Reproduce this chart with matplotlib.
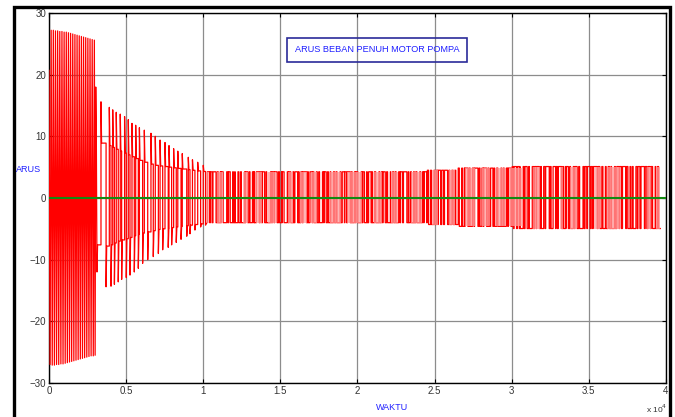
import numpy as np
import matplotlib
matplotlib.use("Agg")
import matplotlib.pyplot as plt
from matplotlib.patches import Rectangle
from matplotlib.ticker import FuncFormatter

# --- data (time in raw units, x axis shown as x 10^4) ---

# start-up: dense swing between about +-27
r1_t = [0, 70, 140, 210, 280, 350, 420, 490, 560, 630, 700, 770, 840, 910, 980,
        1050, 1120, 1190, 1260, 1330, 1400, 1470, 1540, 1610, 1680, 1750, 1820,
        1890, 1960, 2030, 2100, 2170, 2240, 2310, 2380, 2450, 2520, 2590, 2660,
        2730, 2800, 2870, 2940, 2990, 3030, 3070, 3110, 3150]
r1_y = [20.7, -27.0, 27.2, -27.1, 27.2, -27.1, 27.1, -27.0, 27.1, -27.0, 27.0,
        -26.9, 27.0, -26.9, 26.9, -26.8, 26.9, -26.7, 26.8, -26.6, 26.7, -26.5,
        26.6, -26.4, 26.5, -26.3, 26.4, -26.2, 26.3, -26.1, 26.2, -26.0, 26.1,
        -25.9, 26.0, -25.8, 25.9, -25.7, 25.8, -25.6, 25.7, -25.6, 25.6,
        -25.5, 18.0, 9.0, -12.0, -7.6]

# decaying part: switching instants, spike peaks and plateau levels
r2_up = [3370, 3910, 4130, 4360, 4620, 4900, 5140, 5380, 5620, 5860, 6180, 6610,
         6890, 7200, 7520, 7780, 8080, 8350, 8640, 9030, 9300, 9640, 10000]
r2_dn = [3700, 4020, 4240, 4490, 4710, 5010, 5250, 5530, 5790, 6070, 6400, 6760,
         7090, 7370, 7730, 7950, 8250, 8560, 8930, 9140, 9460, 9830, 10150]
r2_pk_hi = [15.6, 14.7, 14.3, 13.9, 13.6, 13.2, 12.7, 12.1, 11.8, 11.4, 11.0, 10.5,
            10.0, 9.4, 9.0, 8.5, 8.0, 7.6, 7.2, 6.6, 6.2, 5.8, 5.3]
r2_pk_lo = [-14.4, -14.3, -14.0, -13.6, -13.2, -12.9, -12.5, -12.0, -11.4, -10.6,
            -10.0, -9.5, -9.0, -8.4, -8.0, -7.6, -7.2, -6.7, -6.2, -5.8, -5.2,
            -4.7, -4.4]
r2_pl_hi = [8.9, 8.5, 8.2, 7.9, 7.6, 7.3, 7.0, 6.7, 6.4, 6.1, 5.8, 5.5, 5.3, 5.2,
            5.1, 5.0, 4.9, 4.8, 4.7, 4.6, 4.5, 4.4, 4.3]
r2_pl_lo = [-7.8, -7.6, -7.3, -7.0, -6.8, -6.6, -6.4, -6.1, -5.9, -5.7, -5.5, -5.3,
            -5.1, -5.0, -4.9, -4.8, -4.7, -4.6, -4.5, -4.4, -4.3, -4.2, -4.1]

# steady switching: half-period durations per block and the two levels
blkA_dur = [80, 150, 40, 110, 60, 200, 90, 50, 130, 40,
            30, 120, 230, 70, 50, 110, 160, 40, 90, 30,
            180, 60, 110, 50, 210, 40, 30, 140, 90, 50,
            160, 80, 30, 20, 120, 190, 60, 100, 50, 140,
            90, 40, 250, 70, 50, 110, 30, 170, 90, 60,
            130, 30, 20, 120, 210, 70, 50, 100, 150, 40,
            80, 180, 60, 30, 120, 90, 50, 230, 70, 40,
            110, 140, 30, 80, 160, 60, 100, 50, 190, 80,
            30, 130, 90, 50, 120, 40, 170, 70, 100, 60,
            200, 50, 90, 140, 30, 110, 60, 180, 80, 40,
            150, 70, 30, 120, 220, 60, 50, 100, 140, 40,
            90, 160, 60, 30, 130, 80, 210, 50, 110, 70,
            40, 140, 90, 60, 180, 30, 120, 70, 100, 50,
            170, 80, 40, 130, 60, 220, 90, 30, 110, 60,
            150, 40, 100, 70, 190, 50, 120, 80, 30, 160, 50]
blkA_lvl = (4.25, -4.0)
blkB_dur = [80, 130, 50, 170, 40, 110, 90, 30, 160, 70,
            120, 60, 200, 90, 50, 140, 80, 110, 60, 160]
blkB_lvl = (4.5, -4.3)
blkC_dur = [70, 160, 40, 120, 30, 20, 190, 80, 60, 150,
            100, 40, 220, 80, 50, 130, 90, 30, 180, 90,
            60, 110, 150, 70, 40, 130, 80, 200, 50, 100,
            60, 140, 90, 40, 170, 80]
blkC_lvl = (4.85, -4.6)
blkD_dur = [80, 40, 160, 60, 120, 30, 20, 200, 70, 50,
            140, 100, 40, 190, 90, 60, 110, 30, 170, 80,
            50, 150, 90, 40, 230, 70, 50, 130, 160, 30,
            90, 60, 210, 80, 40, 120, 30, 20, 150, 90,
            50, 180, 70, 40, 140, 100, 60, 220, 80, 50,
            120, 40, 170, 70, 90, 40, 260, 60, 110, 130,
            70, 160, 50, 130, 80, 100, 40, 190, 60, 90,
            150, 30, 120, 70, 210, 50, 90, 140, 40, 100,
            60, 180, 90, 40, 130, 70, 220, 50, 110, 80,
            140, 60, 90, 170, 40, 110, 70, 110]
blkD_lvl = (5.1, -4.95)

# spans of very fast chatter (seen as pink bands)
chat_t0 = [10200, 10900, 12600, 13400, 14200, 15500, 16300, 17000, 18200, 19300,
           21100, 22200, 23500, 24800, 25900, 27000, 28100, 28900, 29800, 31400,
           33100, 33800, 35300, 36200, 38800, 39350]
chat_t1 = [10400, 11300, 12900, 13800, 14700, 15800, 16700, 17400, 18900, 20300,
           21600, 22600, 24200, 25200, 26300, 27600, 28500, 29600, 30700, 31800,
           33300, 34200, 35700, 37000, 39000, 39600]

x_ticks = [0, 5000, 10000, 15000, 20000, 25000, 30000, 35000, 40000]
y_ticks = [-30, -20, -10, 0, 10, 20, 30]

# --- build the polyline ---
xs = list(r1_t)
ys = list(r1_y)
for i in range(len(r2_up)):
    xs += [r2_up[i], r2_up[i], r2_up[i] + 40, r2_dn[i], r2_dn[i], r2_dn[i] + 40]
    prev = ys[-1]
    ys += [prev, r2_pk_hi[i], r2_pl_hi[i], r2_pl_hi[i], r2_pk_lo[i], r2_pl_lo[i]]

blocks = [(blkA_dur, blkA_lvl), (blkB_dur, blkB_lvl),
          (blkC_dur, blkC_lvl), (blkD_dur, blkD_lvl)]
t = r2_dn[-1] + 40
sign = -1
edges = []
for dur, (hi, lo) in blocks:
    edges.append((t, t + sum(dur), hi, lo))
    for d in dur:
        lvl = hi if sign > 0 else lo
        xs += [t, t + d]
        ys += [lvl, lvl]
        t += d
        sign = -sign


def levels_at(tt):
    for a, b, hi, lo in edges:
        if a <= tt < b:
            return hi, lo
    return edges[-1][2], edges[-1][3]


fig = plt.figure(figsize=(6.75, 4.17), dpi=100)
ax = fig.add_axes([49 / 675, 34 / 417, 617 / 675, 370 / 417])

ax.plot(xs, ys, color='#ff0000', linewidth=0.9, zorder=3)

# pink chatter drawn over the switching lines, half see-through
for a, b in zip(chat_t0, chat_t1):
    hi, lo = levels_at(a)
    ax.add_patch(Rectangle((a, lo), b - a, hi - lo, facecolor='#ff9c9c',
                           alpha=0.75, edgecolor='none', zorder=3.5))

ax.axhline(0, color='#138a13', linewidth=1.5, zorder=4)

ax.set_xlim(0, 40000)
ax.set_ylim(-30, 30)
ax.set_xticks(x_ticks)
ax.set_yticks(y_ticks)
ax.xaxis.set_major_formatter(FuncFormatter(lambda v, p: '%g' % (v / 1e4)))
ax.grid(True, color='#8c8c8c', linewidth=0.9, linestyle='-')
ax.set_axisbelow(True)
ax.tick_params(direction='in', length=3, width=0.8, top=True, right=True,
               labelsize=7, labelcolor='#333333', pad=2)
for s in ax.spines.values():
    s.set_linewidth(1.0)
    s.set_color('black')

for lab in ax.get_xticklabels() + ax.get_yticklabels():
    lab.set_family('Liberation Sans')

ax.text(0.532, 0.90, 'ARUS BEBAN PENUH MOTOR POMPA', transform=ax.transAxes,
        ha='center', va='center', fontsize=6.6, color='#1f1fff',
        family='Liberation Sans', zorder=6,
        bbox=dict(boxstyle='square,pad=0.85', facecolor='none',
                  edgecolor='#2b2b9a', linewidth=1.2))

fig.text(15.5 / 675, 1 - 170 / 417, 'ARUS', ha='left', va='center', fontsize=6.5,
         color='#1f1fff', family='Liberation Sans')
fig.text(392 / 675, 1 - 408 / 417, 'WAKTU', ha='center', va='center',
         fontsize=6.5, color='#1f1fff', family='Liberation Sans')
fig.text(646 / 675, 1 - 409 / 417, 'x 10$^4$', ha='left', va='center',
         fontsize=6, color='#333333', family='Liberation Sans')

fig.add_artist(Rectangle((13.5 / 675, -0.1), (670 - 13.5) / 675,
                         1.1 - 7.5 / 417, transform=fig.transFigure,
                         fill=False, edgecolor='black', linewidth=2.4))

fig.savefig('out.png', dpi=100)
